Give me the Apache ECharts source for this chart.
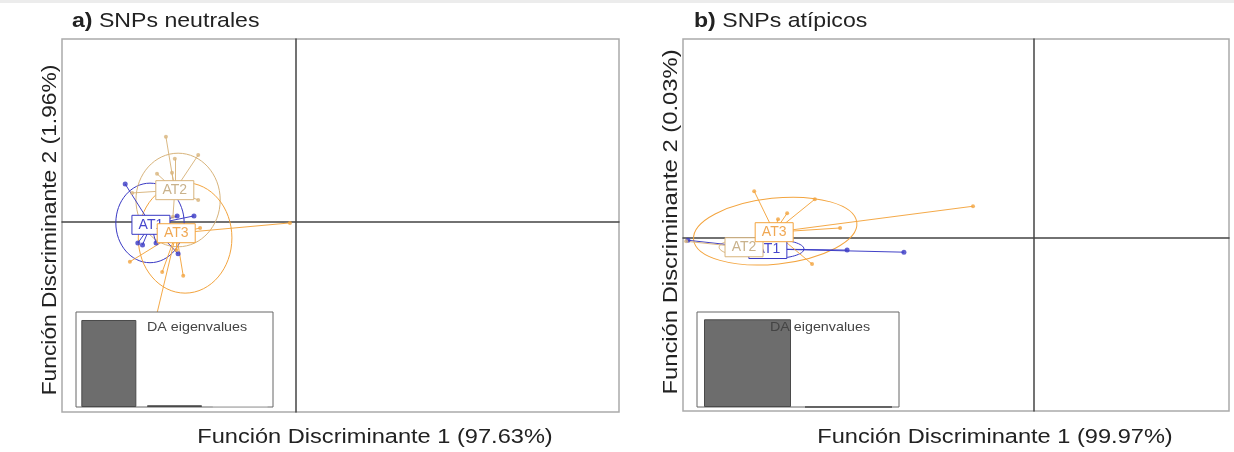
<!DOCTYPE html>
<html>
<head>
<meta charset="utf-8">
<script src="https://cdn.jsdelivr.net/npm/echarts@6/dist/echarts.min.js"></script>
<style>
  html, body { margin: 0; padding: 0; background: #ffffff; }
  #chart { width: 1234px; height: 452px; }
</style>
</head>
<body>
<div id="chart"></div>
<script>
// ---- DAPC scores: discriminant functions 1 and 2 ----
const groupNames = ['AT1', 'AT2', 'AT3'];

// a) neutral SNPs
const neutralCentroids = [[-3.10, -0.06], [-2.59, 0.68], [-2.56, -0.24]];
const neutralAT1 = [[-3.65, 0.81], [-3.38, -0.45], [-3.28, -0.49], [-2.99, -0.45], [-2.18, 0.13], [-2.54, 0.13], [-2.52, -0.68]];
const neutralAT2 = [[-2.78, 1.82], [-2.09, 1.43], [-2.59, 1.35], [-2.97, 1.03], [-2.65, 1.05], [-2.09, 0.47], [-3.50, 0.62], [-2.63, 0.11]];
const neutralAT3 = [[-3.55, -0.85], [-2.86, -1.07], [-2.41, -1.15], [-2.56, -0.60], [-0.13, -0.02], [-3.03, -2.20], [-2.05, -0.13]];
// ellipse: centre x, centre y, radius x, radius y, tilt (deg)
const neutralEllipses = [[-3.12, -0.02, 0.73, 0.85, 0], [-2.52, 0.47, 0.90, 1.00, 0], [-2.37, -0.34, 1.00, 1.18, 0]];
const neutralEig = [97.63, 1.96, 0.41];
const neutralVar = ['97.63%', '1.96%'];

// b) outlier SNPs
const outlierCentroids = [[-7.58, -0.31], [-8.26, -0.26], [-7.40, 0.17]];
const outlierAT1 = [[-3.70, -0.40], [-5.32, -0.34], [-9.86, -0.06], [-7.67, -0.37]];
const outlierAT2 = [[-9.91, -0.09], [-8.52, -0.34], [-7.83, -0.23]];
const outlierAT3 = [[-7.97, 1.34], [-6.24, 1.11], [-7.03, 0.71], [-7.29, 0.54], [-5.52, 0.29], [-1.73, 0.91], [-6.32, -0.74]];
const outlierEllipses = [[-7.45, -0.31, 0.90, 0.27, 0], [-8.26, -0.26, 0.71, 0.23, 0], [-7.37, 0.20, 2.34, 0.94, 6]];
const outlierEig = [99.97, 0.03];
const outlierVar = ['99.97%', '0.03%'];

const panelTitles = [['a)', 'SNPs neutrales'], ['b)', 'SNPs atípicos']];
const eigTitle = 'DA eigenvalues';

// ---- styling ----
const FONT = '"Liberation Sans", Arial, Helvetica, sans-serif';
const groupColors = ['#3838c4', '#d8b47c', '#f3a43e'];
const labelColors = ['#4646cc', '#c9b28c', '#f0a854'];
const pointSizes = [5, 4, 4];

function ellipseSeries(gi, ellipses) {
  return {
    type: 'custom',
    xAxisIndex: gi, yAxisIndex: gi,
    z: 2,
    silent: true,
    data: ellipses,
    renderItem: function (params, api) {
      const c = api.coord([api.value(0), api.value(1)]);
      const s = api.size([api.value(2), api.value(3)]);
      return {
        type: 'ellipse',
        x: c[0], y: c[1],
        rotation: api.value(4) * Math.PI / 180,
        shape: { cx: 0, cy: 0, rx: s[0], ry: s[1] },
        style: { fill: 'none', stroke: groupColors[params.dataIndex], lineWidth: 1 }
      };
    }
  };
}

// group labels boxed at the centroids; later groups are drawn on top
function labelSeries(gi, centroids) {
  return {
    type: 'custom',
    xAxisIndex: gi, yAxisIndex: gi,
    z: 6,
    silent: true,
    data: centroids.map(function (c, k) { return { name: groupNames[k], value: c }; }),
    renderItem: function (params, api) {
      const k = params.dataIndex;
      const c = api.coord([api.value(0), api.value(1)]);
      const w = 38, h = 19;
      return {
        type: 'group',
        x: c[0], y: c[1],
        children: [
          { type: 'rect', shape: { x: -w / 2, y: -h / 2, width: w, height: h },
            style: { fill: '#ffffff', stroke: groupColors[k], lineWidth: 1 } },
          { type: 'text', x: 0, y: 0,
            style: { text: groupNames[k], fontSize: 14, fontFamily: FONT, fill: labelColors[k],
                     align: 'center', verticalAlign: 'middle', textAlign: 'center', textVerticalAlign: 'middle' } }
        ]
      };
    }
  };
}

function panelSeries(gi, centroids, groups, ellipses) {
  const out = [ellipseSeries(gi, ellipses)];
  groups.forEach(function (pts, k) {
    out.push({
      type: 'lines', coordinateSystem: 'cartesian2d',
      xAxisIndex: gi, yAxisIndex: gi, z: 3, silent: true,
      lineStyle: { color: groupColors[k], width: 1, opacity: 0.95, curveness: 0 },
      data: pts.map(function (p) { return { coords: [centroids[k], p] }; })
    });
  });
  groups.forEach(function (pts, k) {
    out.push({
      type: 'scatter', xAxisIndex: gi, yAxisIndex: gi, z: 4, silent: true,
      symbol: 'circle', symbolSize: pointSizes[k],
      itemStyle: { color: groupColors[k] },
      data: pts
    });
  });
  out.push(labelSeries(gi, centroids));
  return out;
}

function eigSeries(gi, eig, width) {
  return {
    type: 'bar', xAxisIndex: gi, yAxisIndex: gi, z: 11, silent: true,
    barWidth: width,
    data: eig.map(function (v, i) {
      return {
        value: v,
        itemStyle: i < 2
          ? { color: '#6d6d6d', borderColor: '#4a4a4a', borderWidth: 1 }
          : { color: '#cccccc', borderColor: '#cccccc', borderWidth: 1 }
      };
    })
  };
}

const hiddenAxis = { show: false };
function mainAxis(gi, min, max) {
  return {
    type: 'value', gridIndex: gi, min: min, max: max,
    axisLine: { show: true, onZero: true, lineStyle: { color: '#444444', width: 1.5 } },
    axisTick: { show: false }, axisLabel: { show: false }, splitLine: { show: false }
  };
}

function txt(x, y, text, size, opts) {
  const o = opts || {};
  return {
    type: 'text', x: x, y: y, z: 20,
    rotation: o.rotation || 0, scaleX: o.scaleX || 1,
    style: {
      text: text, fontSize: size, fontFamily: FONT, fill: o.fill || '#222222',
      align: o.align || 'left', verticalAlign: 'middle',
      textAlign: o.align || 'left', textVerticalAlign: 'middle',
      rich: { b: { fontWeight: 'bold', fontSize: size, fontFamily: FONT, fill: o.fill || '#222222' } }
    }
  };
}

const option = {
  animation: false,
  backgroundColor: '#ffffff',
  grid: [
    { left: 62, top: 39, width: 557, height: 373, show: true, borderColor: '#aaaaaa', borderWidth: 1.5, backgroundColor: 'transparent' },
    { left: 683, top: 39, width: 546, height: 372, show: true, borderColor: '#aaaaaa', borderWidth: 1.5, backgroundColor: 'transparent' },
    { left: 76, top: 312, width: 197, height: 95, show: true, z: 10, backgroundColor: '#ffffff', borderColor: '#666666', borderWidth: 1 },
    { left: 697, top: 312, width: 202, height: 95, show: true, z: 10, backgroundColor: '#ffffff', borderColor: '#666666', borderWidth: 1 }
  ],
  xAxis: [
    mainAxis(0, -5, 6.9),
    mainAxis(1, -10, 5.57),
    Object.assign({ type: 'category', gridIndex: 2, data: neutralEig.map(function (v, i) { return String(i + 1); }) }, hiddenAxis),
    Object.assign({ type: 'category', gridIndex: 3, data: outlierEig.map(function (v, i) { return String(i + 1); }) }, hiddenAxis)
  ],
  yAxis: [
    mainAxis(0, -4.06, 3.91),
    mainAxis(1, -4.93, 5.68),
    Object.assign({ type: 'value', gridIndex: 2, min: 0, max: 106.6 }, hiddenAxis),
    Object.assign({ type: 'value', gridIndex: 3, min: 0, max: 108.3 }, hiddenAxis)
  ],
  series: [].concat(
    panelSeries(0, neutralCentroids, [neutralAT1, neutralAT2, neutralAT3], neutralEllipses),
    panelSeries(1, outlierCentroids, [outlierAT1, outlierAT2, outlierAT3], outlierEllipses),
    [eigSeries(2, neutralEig, 55), eigSeries(3, outlierEig, 87)]
  ),
  graphic: {
    elements: [
      { type: 'rect', z: 20, shape: { x: 0, y: 0, width: 1234, height: 3 }, style: { fill: '#ececec' } },
      txt(72, 21, '{b|' + panelTitles[0][0] + '} ' + panelTitles[0][1], 21, { scaleX: 1.1 }),
      txt(694, 21, '{b|' + panelTitles[1][0] + '} ' + panelTitles[1][1], 21, { scaleX: 1.1 }),
      txt(375, 437, 'Función Discriminante 1 (' + neutralVar[0] + ')', 20, { align: 'center', scaleX: 1.18 }),
      txt(995, 437, 'Función Discriminante 1 (' + outlierVar[0] + ')', 20, { align: 'center', scaleX: 1.18 }),
      txt(50, 230, 'Función Discriminante 2 (' + neutralVar[1] + ')', 20, { align: 'center', rotation: Math.PI / 2, scaleX: 1.14 }),
      txt(671, 222, 'Función Discriminante 2 (' + outlierVar[1] + ')', 20, { align: 'center', rotation: Math.PI / 2, scaleX: 1.19 }),
      txt(147, 327, eigTitle, 13, { scaleX: 1.1, fill: '#444444' }),
      txt(770, 327, eigTitle, 13, { scaleX: 1.1, fill: '#444444' })
    ]
  }
};

const chart = echarts.init(document.getElementById('chart'), null, { renderer: 'canvas' });
chart.setOption(option);
</script>
</body>
</html>
